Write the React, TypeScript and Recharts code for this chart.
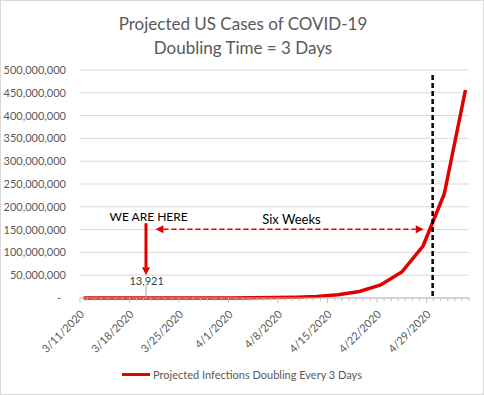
import { CartesianGrid, Legend, Line, LineChart, ReferenceDot, ReferenceLine, XAxis, YAxis } from "recharts";

// days after 3/11/2020, one point every 3 days
const pointDays = [0, 3, 6, 9, 12, 15, 18, 21, 24, 27, 30, 33, 36, 39, 42, 45, 48, 51, 54];
const cases = [
  1740, 3480, 6961, 13921, 27842, 55684, 111368, 222736, 445472, 890944, 1781888, 3563776,
  7127552, 14255104, 28510208, 57020416, 114040832, 228081664, 456163328,
];
const majorDays = [0, 7, 14, 21, 28, 35, 42, 49];
const majorLabels = ["3/11/2020", "3/18/2020", "3/25/2020", "4/1/2020", "4/8/2020", "4/15/2020", "4/22/2020", "4/29/2020"];
const yTicks = [0, 50000000, 100000000, 150000000, 200000000, 250000000, 300000000, 350000000, 400000000, 450000000, 500000000];

const data = pointDays.map((d, i) => ({ day: d, cases: cases[i] }));
// Excel date axis: each day sits between two tick marks
const dayTicks = Array.from({ length: 56 }, (_, i) => i - 0.5);

const RED = "#e00000";
const GREY = "#595959";
const FONT = "Lato, 'Open Sans', sans-serif";

function XTick({ x, y, payload }: any) {
  const idx = majorDays.indexOf(payload.value + 0.5);
  const major = idx >= 0;
  const tx = x + 5;
  const ty = y + 17;
  return (
    <g>
      <line x1={x} x2={x} y1={y} y2={y + (major ? 5 : 3)} stroke="#bfbfbf" />
      {major && (
        <text x={tx} y={ty} transform={`rotate(-45 ${tx} ${ty})`} textAnchor="end" fontSize={11} fill={GREY} fontFamily={FONT}>
          {majorLabels[idx]}
        </text>
      )}
    </g>
  );
}

function YTick({ x, y, payload }: any) {
  const v = payload.value;
  return (
    <text x={v === 0 ? x - 5 : x} y={y} dy={4} textAnchor="end" fontSize={11} fill={GREY} fontFamily={FONT}>
      {v === 0 ? "-" : v.toLocaleString("en-US")}
    </text>
  );
}

const arrow = (start: boolean, end: boolean, color: string, width: number, dash?: string) => (p: any) => {
  const { x1, y1, x2, y2 } = p;
  const a = Math.atan2(y2 - y1, x2 - x1);
  const len = 8;
  const half = 4;
  const head = (tx: number, ty: number, ang: number) => {
    const bx = tx - len * Math.cos(ang);
    const by = ty - len * Math.sin(ang);
    const nx = -Math.sin(ang) * half;
    const ny = Math.cos(ang) * half;
    return `${tx},${ty} ${bx + nx},${by + ny} ${bx - nx},${by - ny}`;
  };
  const sx = start ? x1 + len * Math.cos(a) : x1;
  const sy = start ? y1 + len * Math.sin(a) : y1;
  const ex = end ? x2 - len * Math.cos(a) : x2;
  const ey = end ? y2 - len * Math.sin(a) : y2;
  return (
    <g>
      <line x1={sx} y1={sy} x2={ex} y2={ey} stroke={color} strokeWidth={width} strokeDasharray={dash} />
      {start && <polygon points={head(x1, y1, a + Math.PI)} fill={color} />}
      {end && <polygon points={head(x2, y2, a)} fill={color} />}
    </g>
  );
};

const textShape = (label: string, size: number, color: string) => (p: any) => (
  <text x={p.cx} y={p.cy} dy={size * 0.35} textAnchor="middle" fontSize={size} fill={color} fontFamily={FONT}>
    {label}
  </text>
);

function LegendContent() {
  return (
    <div style={{ display: "flex", alignItems: "center", justifyContent: "center", height: 20, fontFamily: FONT, fontSize: 11, color: GREY }}>
      <span style={{ display: "inline-block", width: 28, height: 3, background: RED, marginRight: 3 }} />
      Projected Infections Doubling Every 3 Days
    </div>
  );
}

export default function App() {
  return (
    <div style={{ position: "absolute", left: 0, top: 0, width: 484, height: 395, boxSizing: "border-box", border: "1px solid #d9d9d9", background: "#fff" }}>
      <div style={{ position: "absolute", top: 11, left: 0, width: 484, textAlign: "center", fontFamily: FONT, fontSize: 17, lineHeight: "24px", color: GREY }}>
        Projected US Cases of COVID-19
        <br />
        Doubling Time = 3 Days
      </div>
      <div style={{ position: "absolute", left: -1, top: -1 }}>
        <LineChart width={484} height={395} data={data} margin={{ top: 70, right: 15, bottom: 11, left: 0 }}>
          <CartesianGrid vertical={false} stroke="#d9d9d9" />
          <XAxis
            dataKey="day"
            type="number"
            domain={[-0.5, 54.5]}
            ticks={dayTicks}
            interval={0}
            tick={<XTick />}
            tickLine={false}
            tickSize={0}
            tickMargin={0}
            height={66}
            axisLine={{ stroke: "#bfbfbf" }}
          />
          <YAxis
            domain={[0, 500000000]}
            ticks={yTicks}
            interval={0}
            width={80}
            tickSize={0}
            tickMargin={14}
            tickLine={false}
            axisLine={false}
            tick={<YTick />}
          />
          <Line dataKey="cases" stroke={RED} strokeWidth={3.5} dot={false} isAnimationActive={false} type="linear" />
          <ReferenceLine
            segment={[{ x: 49.36, y: 489000000 }, { x: 49.36, y: 0 }]}
            stroke="#000"
            strokeWidth={2.5}
            strokeDasharray="5 3"
          />
          <ReferenceLine
            segment={[{ x: 8.83, y: 0 }, { x: 8.83, y: 28000000 }]}
            stroke="#a6a6a6"
            strokeWidth={1}
          />
          <ReferenceLine
            segment={[{ x: 10.17, y: 151000000 }, { x: 48.1, y: 151000000 }]}
            shape={arrow(true, true, RED, 1.5, "5 3")}
          />
          <ReferenceLine
            segment={[{ x: 8.83, y: 164000000 }, { x: 8.83, y: 50000000 }]}
            shape={arrow(false, true, RED, 3)}
          />
          <ReferenceDot x={9.2} y={179000000} r={0} shape={textShape("WE ARE HERE", 12, "#000")} />
          <ReferenceDot x={29.4} y={173000000} r={0} shape={textShape("Six Weeks", 13, "#000")} />
          <ReferenceDot x={8.93} y={36700000} r={0} shape={textShape("13,921", 11, "#404040")} />
          <Legend verticalAlign="bottom" content={<LegendContent />} wrapperStyle={{ left: 0, width: 484 }} />
        </LineChart>
      </div>
    </div>
  );
}
